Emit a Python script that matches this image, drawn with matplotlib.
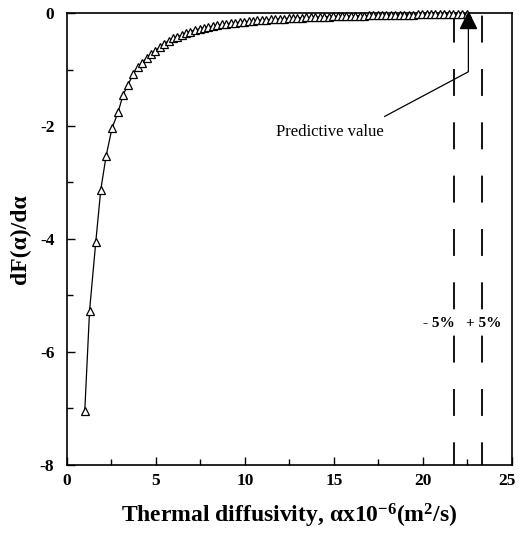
import matplotlib
matplotlib.use("Agg")
import matplotlib.pyplot as plt
import matplotlib.transforms as mtransforms
from matplotlib.ticker import MultipleLocator

plt.rcParams['font.family'] = ['Liberation Serif', 'DejaVu Serif']
plt.rcParams['mathtext.fontset'] = 'custom'
plt.rcParams['mathtext.rm'] = 'Liberation Serif:bold'
plt.rcParams['mathtext.bf'] = 'Liberation Serif:bold'
plt.rcParams['mathtext.it'] = 'Liberation Serif:bold'
plt.rcParams['lines.scale_dashes'] = False

# ---- data ----
alpha = [1.00, 1.27, 1.62, 1.90, 2.20, 2.53, 2.88, 3.15, 3.43, 3.73,
         3.97, 4.23, 4.47, 4.72, 4.96, 5.22, 5.47, 5.73, 5.97, 6.20,
         6.44, 6.69, 6.91, 7.19, 7.45, 7.70, 7.95, 8.20, 8.45, 8.70,
         8.95, 9.20, 9.45, 9.70, 9.95, 10.20, 10.45, 10.70, 10.95, 11.20,
         11.45, 11.70, 11.95, 12.20, 12.45, 12.70, 12.95, 13.20, 13.45, 13.70,
         13.95, 14.20, 14.45, 14.70, 14.95, 15.20, 15.45, 15.70, 15.95, 16.20,
         16.45, 16.70, 16.95, 17.20, 17.45, 17.70, 17.95, 18.20, 18.45, 18.70,
         18.95, 19.20, 19.45, 19.70, 19.95, 20.20, 20.45, 20.70, 20.95, 21.20,
         21.45, 21.70, 21.95, 22.20, 22.45]
dF = [-7.05, -5.27, -4.05, -3.13, -2.53, -2.04, -1.75, -1.45, -1.27, -1.08,
      -0.96, -0.88, -0.80, -0.73, -0.67, -0.60, -0.54, -0.49, -0.45, -0.42,
      -0.39, -0.36, -0.33, -0.30, -0.28, -0.26, -0.245, -0.23, -0.215, -0.20,
      -0.19, -0.18, -0.17, -0.16, -0.152, -0.145, -0.138, -0.131, -0.125, -0.119,
      -0.113, -0.108, -0.103, -0.098, -0.094, -0.090, -0.086, -0.082, -0.078, -0.075,
      -0.072, -0.069, -0.066, -0.063, -0.060, -0.058, -0.056, -0.053, -0.051, -0.049,
      -0.047, -0.045, -0.043, -0.041, -0.039, -0.037, -0.036, -0.034, -0.033, -0.031,
      -0.030, -0.029, -0.027, -0.026, -0.025, -0.024, -0.023, -0.022, -0.021, -0.020,
      -0.019, -0.018, -0.017, -0.016, -0.015]

predictive_x = 22.55
predictive_y = -0.12
bound_x = [21.75, 23.3]
bound_labels = ["- 5%", "+ 5%"]

x_ticks = [0, 5, 10, 15, 20, 25]
y_ticks = [0, -2, -4, -6, -8]

# ---- figure ----
fig = plt.figure(figsize=(5.19, 5.33), dpi=100)
ax = fig.add_axes([0.129, 0.1276, 0.8575, 0.848])

ax.plot(alpha, dF, color='black', lw=0.9, marker='^', ms=5.5,
        mfc='white', mec='black', mew=0.9, clip_on=False, zorder=3)

# predictive value
ax.plot([predictive_x], [predictive_y], marker='^', ms=11.5, color='black',
        clip_on=False, zorder=4)

# bounds
for bx in bound_x:
    ax.plot([bx, bx], [0, -8], color='black', lw=1.3,
            linestyle=(36.5, (19.4, 19.0)), zorder=2)

ax.text(bound_x[0] + 0.05, -5.49, bound_labels[0], ha='right', va='center',
        fontsize=11, fontweight='bold')
ax.text(bound_x[1] + 0.1, -5.49, bound_labels[1], ha='center', va='center',
        fontsize=11, fontweight='bold',
        bbox=dict(facecolor='white', edgecolor='none', pad=0.5))

# annotation
ax.plot([17.85, predictive_x, predictive_x], [-1.83, -1.04, -0.27],
        color='black', lw=0.9, zorder=3)
ax.text(17.8, -2.11, "Predictive value", ha='right', va='center', fontsize=12)

ax.set_xlim(0, 25)
ax.set_ylim(-8, 0)
ax.set_xticks(x_ticks)
ax.set_yticks(y_ticks)
ax.set_xticklabels([str(t) for t in x_ticks])
ax.set_yticklabels([str(t) for t in y_ticks])
ax.xaxis.set_minor_locator(MultipleLocator(2.5))
ax.yaxis.set_minor_locator(MultipleLocator(1))
ax.tick_params(which='both', direction='in', top=False, right=False,
               width=1.0, labelsize=12.5)
ax.tick_params(which='major', length=6)
ax.tick_params(which='minor', length=4)
ax.tick_params(axis='y', pad=9)
ax.tick_params(axis='x', pad=6)
for lab in ax.get_xticklabels() + ax.get_yticklabels():
    lab.set_fontweight('bold')
# keep the last x tick label inside the figure
last = ax.get_xticklabels()[-1]
last.set_transform(last.get_transform() +
                   mtransforms.ScaledTranslation(-4 / 72, 0, fig.dpi_scale_trans))
for s in ax.spines.values():
    s.set_linewidth(1.2)

ax.set_xlabel("Thermal diffusivity, αx10$^{-6}$(m$^{2}$/s)", fontsize=17,
              fontweight='bold', labelpad=9)
ax.set_ylabel("dF(α)/dα", fontsize=17, fontweight='bold', labelpad=6)

fig.savefig("out.png", dpi=100)
